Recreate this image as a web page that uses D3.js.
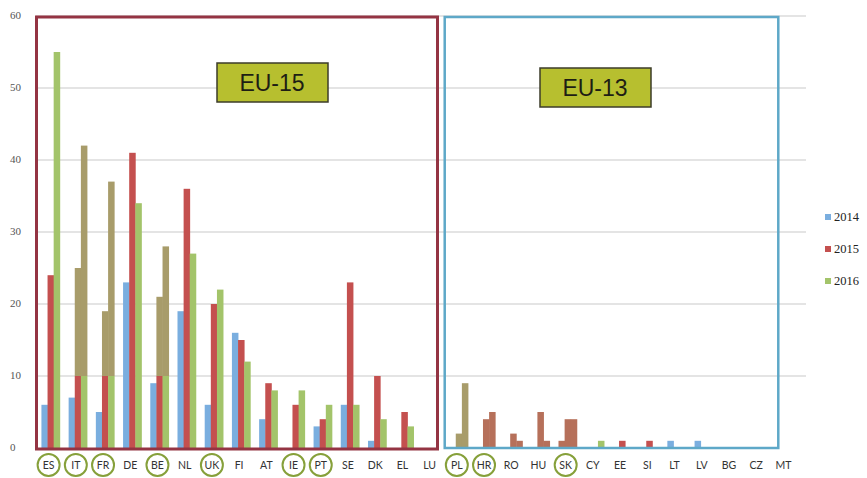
<!DOCTYPE html>
<html><head><meta charset="utf-8">
<script src="https://cdn.jsdelivr.net/npm/d3@7/dist/d3.min.js"></script>
<style>body{margin:0;background:#fff}svg{display:block}</style>
</head><body>
<svg id="c" width="867" height="478"></svg>
<script>
const categories = ["ES","IT","FR","DE","BE","NL","UK","FI","AT","IE","PT","SE","DK","EL","LU","PL","HR","RO","HU","SK","CY","EE","SI","LT","LV","BG","CZ","MT"];
const v2014 = [6,7,5,23,9,19,6,16,4,0,3,6,1,0,0, 0,0,0,0,1,0,0,0,1,1,0,0,0];
const v2015 = [24,25,19,41,21,36,20,15,9,6,4,23,10,5,0, 2,4,2,5,4,0,1,1,0,0,0,0,0];
const v2016 = [55,42,37,34,28,27,22,12,8,8,6,6,4,3,0, 9,5,1,1,4,1,0,0,0,0,0,0,0];
const seriesNames = ["2014","2015","2016"];
const yTicks = [0,10,20,30,40,50,60];
const circled = ["ES","IT","FR","BE","UK","IE","PT","PL","HR","SK"];
const groupEU15 = ["ES","LU"];
const groupEU13 = ["PL","MT"];
// highlight overlays seen in the picture
const oliveAbove10 = ["IT","FR","BE"];
const oliveFull = ["PL"];
const brownFull = ["HR","RO","HU","SK"];

const colors = {"2014":"#7aaedf","2015":"#c4504f","2016":"#a3c46a"};
const olive = "#a89c6a", brown = "#b6705a";

const svg = d3.select("#c");
const x = d3.scaleBand().domain(categories).range([35,797]);
const y = d3.scaleLinear().domain([0,60]).range([448,16]);
const step = x.step(), bw = step*0.225;

// gridlines
svg.append("g").selectAll("line").data(yTicks.filter(d=>d>0)).join("line")
  .attr("x1",36).attr("x2",806).attr("y1",d=>y(d)).attr("y2",d=>y(d))
  .attr("stroke","#e4e4e4").attr("stroke-width",2);

// y labels
svg.append("g").selectAll("text").data(yTicks).join("text")
  .attr("x",10).attr("y",d=>y(d)+3).text(d=>d)
  .attr("font-family","Liberation Serif, serif").attr("font-size",11).attr("fill","#555");

// bars
const rows = [];
categories.forEach((c,i)=>{
  [v2014[i],v2015[i],v2016[i]].forEach((v,j)=>{
    if(v<=0) return;
    const s = seriesNames[j];
    const xs = x(c)+step/2 + 2 + (j-1.5)*bw;
    let col = colors[s];
    if(oliveFull.includes(c) && j>0) col = olive;
    if(brownFull.includes(c)) col = brown;
    if(oliveAbove10.includes(c) && j>0 && v>10){
      rows.push({x:xs,v0:0,v1:10,col:colors[s]});
      rows.push({x:xs,v0:10,v1:v,col:olive});
    } else rows.push({x:xs,v0:0,v1:v,col});
  });
});
svg.append("g").selectAll("rect").data(rows).join("rect")
  .attr("x",d=>d.x).attr("width",bw+0.4)
  .attr("y",d=>y(d.v1)).attr("height",d=>y(d.v0)-y(d.v1))
  .attr("fill",d=>d.col);

// group boxes
svg.append("rect").attr("x",x(groupEU15[0])+1.5).attr("y",y(60)+1)
  .attr("width",x(groupEU15[1])+20-x(groupEU15[0])).attr("height",y(0)-y(60))
  .attr("fill","none").attr("stroke","#943443").attr("stroke-width",3);
svg.append("rect").attr("x",x(groupEU13[0])+1.5).attr("y",y(60)+1)
  .attr("width",x(groupEU13[1])+7-x(groupEU13[0])).attr("height",y(0)-y(60)-1)
  .attr("fill","none").attr("stroke","#5ea8c8").attr("stroke-width",2.5);

// group labels
function tag(txt,cx,top){
  svg.append("rect").attr("x",cx-55).attr("y",top).attr("width",111).attr("height",39)
    .attr("fill","#b7bf2f").attr("stroke","#3c3c2a").attr("stroke-width",1.5);
  svg.append("text").attr("x",cx).attr("y",top+28).attr("text-anchor","middle")
    .attr("font-family","Liberation Sans, Arial, sans-serif").attr("font-size",23)
    .attr("fill","#1e1e14").text(txt);
}
tag("EU-15",272,63);
tag("EU-13",595,68);

// x labels
const xl = svg.append("g");
xl.selectAll("ellipse").data(circled).join("ellipse")
  .attr("cx",d=>x(d)+step/2).attr("cy",465).attr("rx",11).attr("ry",11)
  .attr("fill","none").attr("stroke","#86a03a").attr("stroke-width",2);
xl.selectAll("text").data(categories).join("text")
  .attr("x",d=>x(d)+step/2).attr("y",469).attr("text-anchor","middle")
  .attr("font-family","Lato, sans-serif").attr("font-size",10.5).attr("fill","#333").text(d=>d);

// legend
const lg = svg.append("g").selectAll("g").data(seriesNames).join("g")
  .attr("transform",(d,i)=>`translate(825,${218+i*32})`);
lg.append("rect").attr("x",0).attr("y",-4).attr("width",6).attr("height",6).attr("fill",d=>colors[d]);
lg.append("text").attr("x",9).attr("y",3).text(d=>d)
  .attr("font-family","Liberation Serif, serif").attr("font-size",12.5).attr("fill","#222");
</script>
</body></html>
